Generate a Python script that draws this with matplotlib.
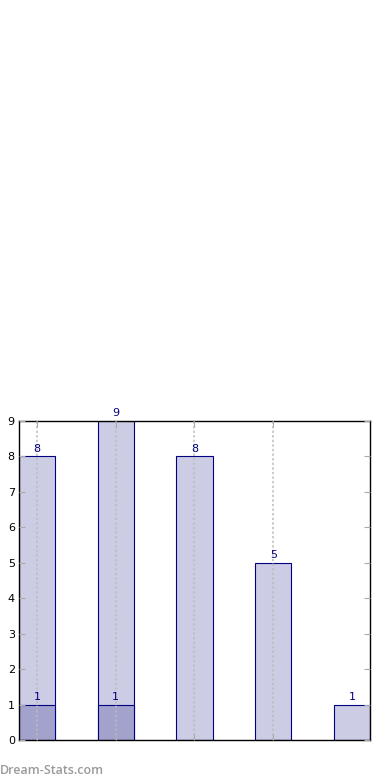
import matplotlib
matplotlib.use("Agg")
import matplotlib.pyplot as plt

categories = ["A", "B", "C", "D", "E"]
totals = [8, 9, 8, 5, 1]
subset = [1, 1, 0, 0, 0]

fig = plt.figure(figsize=(3.9, 7.8), dpi=100)
ax = fig.add_axes([0.0487, 0.0513, 0.9, 0.409])

x = list(range(len(categories)))
w = 0.46
ax.bar(x, totals, width=w, color="#ccccE4", edgecolor="#000080", linewidth=0.8, zorder=1)
ax.bar([xi for xi, s in zip(x, subset) if s > 0], [s for s in subset if s > 0], width=w,
       color="#a2a2cc", edgecolor="#000080", linewidth=0.8, zorder=2)

for xi, t in zip(x, totals):
    ax.text(xi, t + 0.08, str(t), ha="center", va="bottom", color="#000080", fontsize=8, zorder=5)
for xi, s in zip(x, subset):
    if s > 0:
        ax.text(xi, s + 0.08, str(s), ha="center", va="bottom", color="#000080", fontsize=8, zorder=5)

ax.set_xlim(-w / 2, len(categories) - 1 + w / 2)
ax.set_ylim(0, 9)
ax.set_yticks(range(0, 10))
ax.set_xticks([0, 1, 2, 3])
ax.set_xticklabels([])
ax.xaxis.grid(True, linestyle=(0, (1.5, 1.5)), color="#bcbcbc", linewidth=1.1, zorder=3)
ax.set_axisbelow(False)
ax.tick_params(axis="y", direction="in", length=4, color="#aaaaaa", labelsize=8, right=True, pad=3)
ax.tick_params(axis="x", direction="in", length=4, color="#aaaaaa", top=True)
for sp in ax.spines.values():
    sp.set_linewidth(1.0)
    sp.set_color("black")

fig.text(0.0, 0.0128, "Dream-Stats.com", color="#9a9a9a", fontsize=9, fontweight="semibold",
         family="Open Sans", ha="left", va="center")

fig.savefig("out.png", dpi=100)
